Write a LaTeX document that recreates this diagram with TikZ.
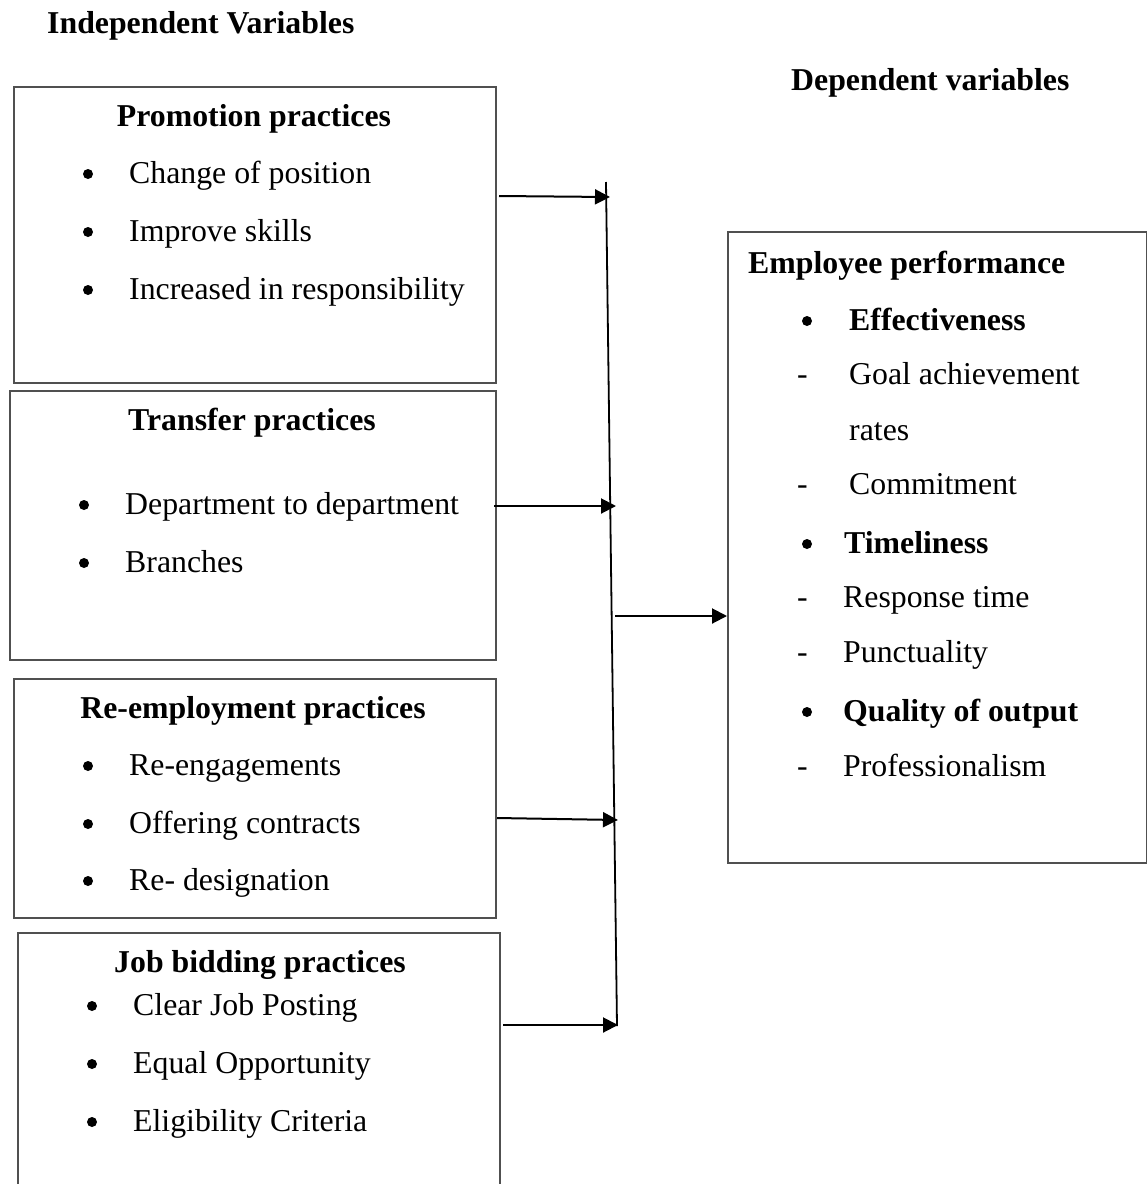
\documentclass[tikz,border=0pt]{standalone}
\usepackage{fontspec}
\setmainfont{Liberation Serif}
\usetikzlibrary{arrows.meta}
\definecolor{boxgray}{HTML}{505050}
\begin{document}
\begin{tikzpicture}[x=1pt,y=-1pt,
  box/.style={draw=boxgray, line width=2pt, anchor=north west, inner sep=0pt},
  txt/.style={anchor=base west, inner sep=0pt, font=\fontsize{31.8}{38}\selectfont},
  head/.style={anchor=base, inner sep=0pt, font=\fontsize{31.8}{38}\selectfont\bfseries},
  btxt/.style={txt, font=\fontsize{31.8}{38}\selectfont\bfseries},
  dot/.style={circle, fill=black, inner sep=0pt, minimum size=10pt},
  arr/.style={line width=2pt, -{Triangle[length=15pt,width=15pt]}},
  bus/.style={line width=1.8pt}]
\clip (0,0) rectangle (1147,1184);
\fill[white] (0,0) rectangle (1147,1184);

% column titles
\node[btxt] (tIndep) at (47,33) {Independent Variables};
\node[btxt] (tDep) at (791,90) {Dependent variables};

% independent variable boxes
\node[box, minimum width=482pt, minimum height=296pt] (promo) at (13,86) {};
\node[box, minimum width=486pt, minimum height=269pt] (trans) at (9,390) {};
\node[box, minimum width=482pt, minimum height=239pt] (reemp) at (13,678) {};
\node[box, minimum width=482pt, minimum height=270pt] (bid) at (17,932) {};

% dependent variable box
\node[box, minimum width=419pt, minimum height=631pt] (emp) at (727,231) {};

% promotion practices
\node[head] (hPromo) at (254,126) {Promotion practices};
\node[dot] (pb1) at (88,174) {};
\node[txt] (p1) at (129,183) {Change of position};
\node[dot] (pb2) at (88,232) {};
\node[txt] (p2) at (129,241) {Improve skills};
\node[dot] (pb3) at (88,290) {};
\node[txt] (p3) at (129,299) {Increased in responsibility};

% transfer practices
\node[head] (hTrans) at (252,430) {Transfer practices};
\node[dot] (tb1) at (84,505) {};
\node[txt] (t1) at (125,514) {Department to department};
\node[dot] (tb2) at (84,563) {};
\node[txt] (t2) at (125,572) {Branches};

% re-employment practices
\node[head] (hReemp) at (253,718) {Re-employment practices};
\node[dot] (rb1) at (88,766) {};
\node[txt] (r1) at (129,775) {Re-engagements};
\node[dot] (rb2) at (88,824) {};
\node[txt] (r2) at (129,833) {Offering contracts};
\node[dot] (rb3) at (88,881) {};
\node[txt] (r3) at (129,890) {Re- designation};

% job bidding practices
\node[head] (hBid) at (260,972) {Job bidding practices};
\node[dot] (jb1) at (92,1006) {};
\node[txt] (j1) at (133,1015) {Clear Job Posting};
\node[dot] (jb2) at (92,1064) {};
\node[txt] (j2) at (133,1073) {Equal Opportunity};
\node[dot] (jb3) at (92,1122) {};
\node[txt] (j3) at (133,1131) {Eligibility Criteria};

% employee performance
\node[btxt] (hEmp) at (748,273) {Employee performance};
\node[dot] (eb1) at (807,321) {};
\node[btxt] (e1) at (849,330) {Effectiveness};
\node[txt] (ed1) at (797,384) {-};
\node[txt] (e1a) at (849,384) {Goal achievement};
\node[txt] (e1b) at (849,440) {rates};
\node[txt] (ed2) at (797,494) {-};
\node[txt] (e1c) at (849,494) {Commitment};
\node[dot] (eb2) at (807,544) {};
\node[btxt] (e2) at (844,553) {Timeliness};
\node[txt] (ed3) at (797,607) {-};
\node[txt] (e2a) at (843,607) {Response time};
\node[txt] (ed4) at (797,662) {-};
\node[txt] (e2b) at (843,662) {Punctuality};
\node[dot] (eb3) at (807,712) {};
\node[btxt] (e3) at (843,721) {Quality of output};
\node[txt] (ed5) at (797,776) {-};
\node[txt] (e3a) at (843,776) {Professionalism};

% collecting line and arrow end points
\coordinate (busTop) at (606,182);
\coordinate (busBot) at (617,1026);
\coordinate (s1) at (499,196);
\coordinate (e1e) at (610,197);
\coordinate (s2) at (494,506);
\coordinate (e2e) at (616,506);
\coordinate (s3) at (497,818);
\coordinate (e3e) at (618,820);
\coordinate (s4) at (503,1025);
\coordinate (e4e) at (618,1025);
\coordinate (s5) at (615,616);

\draw[bus] (busTop) -- (busBot);
\draw[arr] (s1) -- (e1e);
\draw[arr] (s2) -- (e2e);
\draw[arr] (s3) -- (e3e);
\draw[arr] (s4) -- (e4e);
\draw[arr] (s5) -- (s5 -| emp.west);
\end{tikzpicture}
\end{document}
